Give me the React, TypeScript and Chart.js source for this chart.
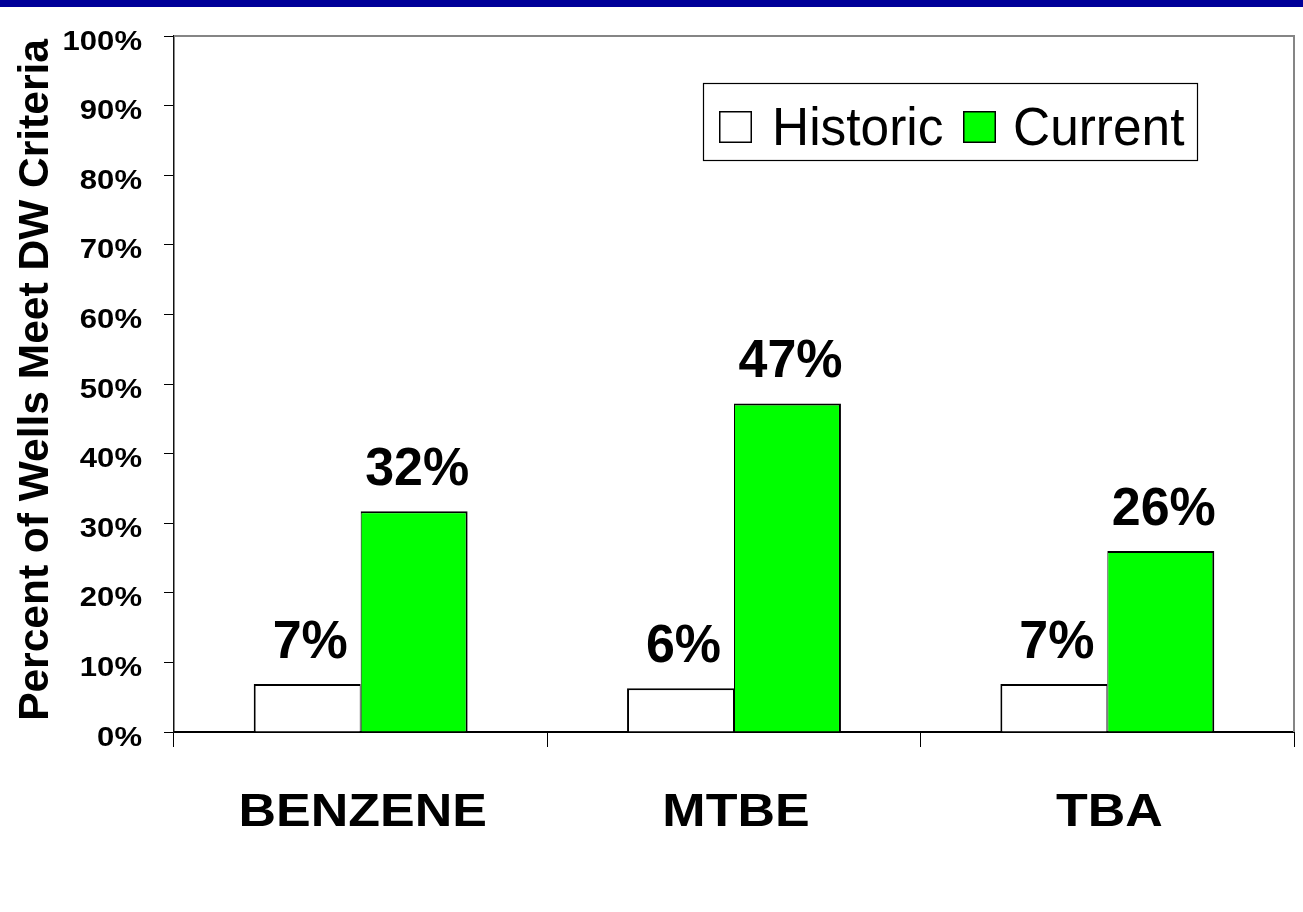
import React, { useEffect, useRef } from "react";
import { Chart, registerables } from "chart.js";

Chart.register(...registerables);

const categories = ["BENZENE", "MTBE", "TBA"];
const seriesNames = ["Historic", "Current"];
const historicValues = [6.9, 6.3, 6.9];
const currentValues = [31.7, 47.2, 26.0];
const yTickValues = [0, 10, 20, 30, 40, 50, 60, 70, 80, 90, 100];
const yAxisTitle = "Percent of Wells Meet DW Criteria";

const FONT = '"Liberation Sans", Arial, Helvetica, sans-serif';

function drawText(
  ctx: CanvasRenderingContext2D,
  text: string,
  x: number,
  y: number,
  size: number,
  weight: string,
  sx: number,
  align: CanvasTextAlign,
  rotate = 0
) {
  ctx.save();
  ctx.translate(x, y);
  if (rotate) ctx.rotate(rotate);
  ctx.scale(sx, 1);
  ctx.font = `${weight} ${size}px ${FONT}`;
  ctx.textAlign = align;
  ctx.textBaseline = "alphabetic";
  ctx.fillStyle = "#000";
  ctx.fillText(text, 0, 0);
  ctx.restore();
}

const decorPlugin = {
  id: "decor",
  beforeDraw(chart: any) {
    const ctx = chart.ctx as CanvasRenderingContext2D;
    ctx.save();
    ctx.fillStyle = "#ffffff";
    ctx.fillRect(0, 0, chart.width, chart.height);
    ctx.fillStyle = "#000099";
    ctx.fillRect(0, 0, chart.width, 7);
    ctx.restore();
  },
  afterDraw(chart: any) {
    const ctx = chart.ctx as CanvasRenderingContext2D;
    const { left, right, top, bottom } = chart.chartArea;

    // top & right frame (gray)
    ctx.save();
    ctx.strokeStyle = "#858585";
    ctx.lineWidth = 2;
    ctx.beginPath();
    ctx.moveTo(left, top);
    ctx.lineTo(right, top);
    ctx.lineTo(right, bottom);
    ctx.stroke();
    ctx.restore();

    // y tick labels
    const ys = chart.scales.y;
    ys.ticks.forEach((t: any) => {
      const py = ys.getPixelForValue(t.value);
      drawText(ctx, `${t.value}%`, left - 32, py + 13.5, 27, "bold", 1.15, "right");
    });

    // category labels
    const xs = chart.scales.x;
    categories.forEach((c, i) => {
      const px = xs.getPixelForValue(i);
      drawText(ctx, c, px + 2, bottom + 94, 46, "bold", 1.13, "center");
    });

    // y axis title
    drawText(ctx, yAxisTitle, 48, (top + bottom) / 2 - 4, 42.5, "bold", 1, "center", -Math.PI / 2);

    // data labels
    chart.data.datasets.forEach((ds: any, di: number) => {
      const meta = chart.getDatasetMeta(di);
      meta.data.forEach((el: any, j: number) => {
        const v = ds.data[j] as number;
        drawText(ctx, `${Math.round(v)}%`, el.x + 3, el.y - 26, 53, "bold", 0.98, "center");
      });
    });

    // legend
    ctx.save();
    ctx.fillStyle = "#ffffff";
    ctx.fillRect(703, 83, 495, 77);
    ctx.strokeStyle = "#000";
    ctx.lineWidth = 1.2;
    ctx.strokeRect(703.5, 83.5, 494, 77);
    const items = [
      { name: chart.data.datasets[0].label, fill: chart.data.datasets[0].backgroundColor, sq: 719, tx: 772 },
      { name: chart.data.datasets[1].label, fill: chart.data.datasets[1].backgroundColor, sq: 963, tx: 1013 },
    ];
    items.forEach((it) => {
      ctx.fillStyle = it.fill;
      ctx.fillRect(it.sq, 111, 33, 32);
      ctx.lineWidth = 1.5;
      ctx.strokeStyle = "#000";
      ctx.strokeRect(it.sq + 0.75, 111.75, 31.5, 30.5);
      drawText(ctx, it.name, it.tx, 145, 53, "normal", 0.97, "left");
    });
    ctx.restore();
  },
};

export default function App() {
  const ref = useRef<HTMLCanvasElement | null>(null);

  useEffect(() => {
    document.body.style.margin = "0";
    if (!ref.current) return;
    const chart = new Chart(ref.current, {
      type: "bar",
      data: {
        labels: categories,
        datasets: [
          {
            label: seriesNames[0],
            data: historicValues,
            backgroundColor: "#ffffff",
            borderColor: "#000000",
            borderWidth: { top: 2, left: 2, bottom: 0, right: 1 },
            borderSkipped: false,
            categoryPercentage: 0.573,
            barPercentage: 1,
          },
          {
            label: seriesNames[1],
            data: currentValues,
            backgroundColor: "#00ff00",
            borderColor: "#000000",
            borderWidth: { top: 2, left: 1, bottom: 0, right: 2 },
            borderSkipped: false,
            categoryPercentage: 0.573,
            barPercentage: 1,
          },
        ],
      },
      options: {
        responsive: false,
        animation: false,
        layout: { padding: { left: 164, right: 9, top: 36, bottom: 165 } },
        plugins: {
          legend: { display: false },
          tooltip: { enabled: false },
          title: { display: false },
        },
        scales: {
          x: {
            offset: true,
            ticks: { display: false },
            grid: {
              display: true,
              offset: true,
              drawOnChartArea: false,
              drawTicks: true,
              tickLength: 15,
              color: "#000000",
              lineWidth: 1,
            },
            border: { display: true, color: "#000000", width: 2 },
          },
          y: {
            min: 0,
            max: 100,
            afterBuildTicks: (scale: any) => {
              scale.ticks = yTickValues.map((v) => ({ value: v }));
            },
            ticks: { display: false, stepSize: 10 },
            grid: {
              display: true,
              drawOnChartArea: false,
              drawTicks: true,
              tickLength: 10,
              color: "#000000",
              lineWidth: 1,
            },
            border: { display: true, color: "#111111", width: 1.5 },
          },
        },
      },
      plugins: [decorPlugin],
    });
    return () => chart.destroy();
  }, []);

  return (
    <div style={{ width: 1303, height: 912 }}>
      <canvas ref={ref} width={1303} height={912} style={{ display: "block" }} />
    </div>
  );
}
